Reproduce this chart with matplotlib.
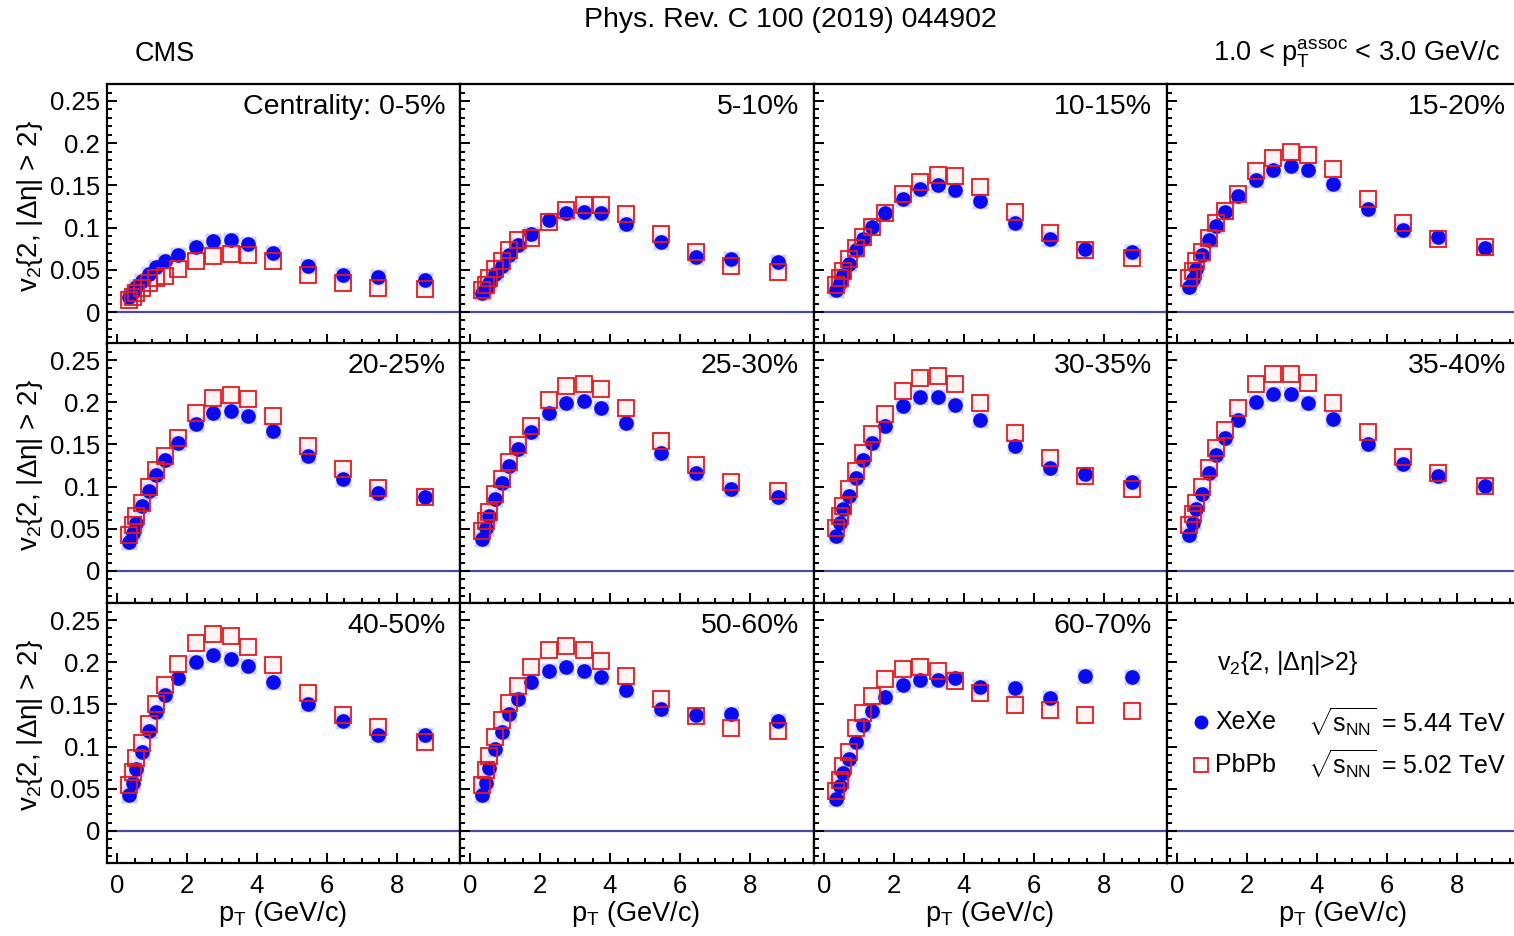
"""CMS v2{2,|deta|>2} vs pT, XeXe vs PbPb, centrality grid."""
import matplotlib.pyplot as plt
from matplotlib.ticker import MultipleLocator, FuncFormatter

plt.rcParams["font.family"] = ["Liberation Sans", "DejaVu Sans"]
plt.rcParams["mathtext.fontset"] = "custom"
plt.rcParams["mathtext.rm"] = "Liberation Sans"
plt.rcParams["mathtext.it"] = "Liberation Sans"
plt.rcParams["mathtext.bf"] = "Liberation Sans:bold"

pt = [0.35, 0.45, 0.55, 0.7, 0.9, 1.12, 1.37, 1.75, 2.25, 2.75, 3.25, 3.75, 4.45, 5.45, 6.45, 7.45, 8.8]

centralities = ["Centrality: 0-5%", "5-10%", "10-15%", "15-20%", "20-25%", "25-30%",
                "30-35%", "35-40%", "40-50%", "50-60%", "60-70%"]

# values
xexe_0_5 = [0.018, 0.024, 0.030, 0.037, 0.045, 0.053, 0.060, 0.067, 0.077, 0.084, 0.085, 0.080, 0.070, 0.055, 0.044, 0.041, 0.038]
pbpb_0_5 = [0.014, 0.018, 0.022, 0.028, 0.034, 0.040, 0.043, 0.051, 0.061, 0.066, 0.069, 0.067, 0.060, 0.044, 0.034, 0.028, 0.027]
xexe_5_10 = [0.022, 0.028, 0.034, 0.045, 0.055, 0.067, 0.079, 0.093, 0.109, 0.117, 0.119, 0.117, 0.104, 0.083, 0.065, 0.063, 0.059]
pbpb_5_10 = [0.026, 0.032, 0.040, 0.051, 0.061, 0.073, 0.085, 0.088, 0.107, 0.121, 0.127, 0.127, 0.116, 0.092, 0.071, 0.055, 0.047]
xexe_10_15 = [0.026, 0.034, 0.044, 0.057, 0.073, 0.087, 0.101, 0.117, 0.134, 0.146, 0.150, 0.144, 0.131, 0.106, 0.086, 0.075, 0.071]
pbpb_10_15 = [0.032, 0.040, 0.049, 0.063, 0.076, 0.089, 0.101, 0.117, 0.140, 0.154, 0.162, 0.161, 0.148, 0.119, 0.094, 0.073, 0.064]
xexe_15_20 = [0.030, 0.039, 0.051, 0.067, 0.085, 0.102, 0.119, 0.138, 0.156, 0.168, 0.173, 0.168, 0.152, 0.122, 0.097, 0.089, 0.076]
pbpb_15_20 = [0.040, 0.049, 0.060, 0.071, 0.088, 0.105, 0.120, 0.140, 0.167, 0.182, 0.190, 0.186, 0.170, 0.134, 0.106, 0.086, 0.077]
xexe_20_25 = [0.034, 0.045, 0.057, 0.077, 0.095, 0.114, 0.132, 0.152, 0.174, 0.187, 0.189, 0.184, 0.166, 0.136, 0.109, 0.092, 0.088]
pbpb_20_25 = [0.043, 0.055, 0.065, 0.081, 0.100, 0.120, 0.136, 0.158, 0.187, 0.205, 0.209, 0.204, 0.184, 0.148, 0.121, 0.098, 0.088]
xexe_25_30 = [0.038, 0.051, 0.065, 0.085, 0.104, 0.124, 0.144, 0.165, 0.187, 0.199, 0.201, 0.193, 0.175, 0.140, 0.116, 0.097, 0.088]
pbpb_25_30 = [0.047, 0.059, 0.070, 0.091, 0.109, 0.129, 0.149, 0.172, 0.203, 0.219, 0.222, 0.216, 0.193, 0.154, 0.126, 0.106, 0.095]
xexe_30_35 = [0.041, 0.057, 0.073, 0.089, 0.110, 0.132, 0.152, 0.172, 0.195, 0.206, 0.206, 0.197, 0.179, 0.148, 0.122, 0.115, 0.105]
pbpb_30_35 = [0.051, 0.065, 0.077, 0.097, 0.118, 0.140, 0.162, 0.186, 0.213, 0.229, 0.231, 0.222, 0.199, 0.163, 0.134, 0.113, 0.097]
xexe_35_40 = [0.043, 0.057, 0.073, 0.091, 0.116, 0.137, 0.158, 0.179, 0.200, 0.210, 0.210, 0.199, 0.180, 0.150, 0.127, 0.112, 0.101]
pbpb_35_40 = [0.054, 0.067, 0.081, 0.100, 0.122, 0.146, 0.167, 0.193, 0.221, 0.234, 0.234, 0.223, 0.199, 0.165, 0.135, 0.116, 0.101]
xexe_40_50 = [0.043, 0.057, 0.073, 0.094, 0.119, 0.141, 0.161, 0.181, 0.200, 0.209, 0.204, 0.196, 0.176, 0.151, 0.130, 0.114, 0.114]
pbpb_40_50 = [0.054, 0.070, 0.087, 0.104, 0.127, 0.151, 0.173, 0.198, 0.223, 0.233, 0.231, 0.218, 0.197, 0.164, 0.137, 0.123, 0.106]
xexe_50_60 = [0.043, 0.057, 0.075, 0.097, 0.117, 0.139, 0.156, 0.176, 0.190, 0.194, 0.190, 0.182, 0.167, 0.145, 0.137, 0.139, 0.130]
pbpb_50_60 = [0.055, 0.072, 0.089, 0.111, 0.131, 0.152, 0.172, 0.194, 0.214, 0.219, 0.214, 0.201, 0.184, 0.156, 0.136, 0.122, 0.119]
xexe_60_70 = [0.038, 0.053, 0.069, 0.085, 0.105, 0.126, 0.142, 0.159, 0.173, 0.179, 0.179, 0.181, 0.171, 0.169, 0.158, 0.184, 0.182]
pbpb_60_70 = [0.047, 0.061, 0.077, 0.094, 0.122, 0.140, 0.160, 0.180, 0.192, 0.194, 0.190, 0.178, 0.163, 0.149, 0.143, 0.137, 0.142]

xexe_all = [xexe_0_5, xexe_5_10, xexe_10_15, xexe_15_20, xexe_20_25, xexe_25_30,
            xexe_30_35, xexe_35_40, xexe_40_50, xexe_50_60, xexe_60_70]
pbpb_all = [pbpb_0_5, pbpb_5_10, pbpb_10_15, pbpb_15_20, pbpb_20_25, pbpb_25_30,
            pbpb_30_35, pbpb_35_40, pbpb_40_50, pbpb_50_60, pbpb_60_70]

BLUE = "#0a0af0"
RED = "#e8181e"
ZERO = "#4b4b9e"
FS = 18.5

W, H = 1514, 936
fig = plt.figure(figsize=(W / 100, H / 100), dpi=100)
col_left = [107, 460, 814, 1167]
col_width = [353, 354, 353, 354]
row_top = [84, 343, 603]
row_h = 260
zero_off = 228     # px from panel top to y=0
px_per_x = 35.0
px_per_y = 844.0


def style_axis(ax, row, col):
    ax.set_xlim(-10 / px_per_x, (col_width[col] - 10) / px_per_x)
    ax.set_ylim(-(row_h - zero_off) / px_per_y, zero_off / px_per_y)
    ax.xaxis.set_major_locator(MultipleLocator(2))
    ax.xaxis.set_minor_locator(MultipleLocator(0.5))
    ax.yaxis.set_major_locator(MultipleLocator(0.05))
    ax.yaxis.set_minor_locator(MultipleLocator(0.01))
    ax.tick_params(which="both", direction="in", top=False, right=False,
                   width=1.4, labelsize=FS, colors="black")
    ax.tick_params(which="major", length=7)
    ax.tick_params(which="minor", length=3.5)
    ax.tick_params(axis="y", pad=5)
    ax.tick_params(axis="x", pad=8)
    ax.yaxis.set_major_formatter(FuncFormatter(lambda v, _: f"{v:.2f}".rstrip("0").rstrip(".") if abs(v) > 1e-9 else "0"))
    for sp in ax.spines.values():
        sp.set_linewidth(1.6)
    if col != 0:
        ax.tick_params(axis="y", labelleft=False)
    if row != 2:
        ax.tick_params(axis="x", labelbottom=False)
    ax.axhline(0, color=ZERO, lw=1.6, zorder=1)


axes = []
for row in range(3):
    for col in range(4):
        left = col_left[col] / W
        bottom = 1 - (row_top[row] + row_h) / H
        ax = fig.add_axes([left, bottom, col_width[col] / W, row_h / H])
        style_axis(ax, row, col)
        axes.append(ax)

for i, label in enumerate(centralities):
    ax = axes[i]
    xe = xexe_all[i]
    pb = pbpb_all[i]
    # systematic halos
    ax.plot(pt, xe, ls="none", marker="s", ms=12, color="#8c8cff", alpha=0.4, mec="none", zorder=2)
    ax.plot(pt, pb, ls="none", marker="s", ms=11, color="#ffd6d6", alpha=0.25, mec="none", zorder=2)
    ax.plot(pt, xe, ls="none", marker="o", ms=9.5, color=BLUE, mec=BLUE, zorder=3)
    ax.plot(pt, pb, ls="none", marker="s", ms=11, mfc="none", mec=RED, mew=1.3, zorder=4)
    ax.text(0.958, 0.912, label, transform=ax.transAxes, ha="right", va="center", fontsize=20.5)

# legend panel
lax = axes[11]
LFS = 18
lax.text(0.141, 0.769, "v$_2${2, |Δη|>2}", transform=lax.transAxes, ha="left", va="center", fontsize=LFS)
lax.plot([0.096], [0.542], transform=lax.transAxes, marker="o", ms=9, color=BLUE, ls="none", clip_on=False)
lax.plot([0.096], [0.377], transform=lax.transAxes, marker="s", ms=10.5, mfc="none", mec=RED, mew=1.3, ls="none", clip_on=False)
lax.text(0.136, 0.542, "XeXe", transform=lax.transAxes, ha="left", va="center", fontsize=LFS)
lax.text(0.136, 0.377, "PbPb", transform=lax.transAxes, ha="left", va="center", fontsize=LFS)
lax.text(0.399, 0.542, r"$\sqrt{s_{\mathrm{NN}}}$ = 5.44 TeV", transform=lax.transAxes, ha="left", va="center", fontsize=LFS)
lax.text(0.399, 0.377, r"$\sqrt{s_{\mathrm{NN}}}$ = 5.02 TeV", transform=lax.transAxes, ha="left", va="center", fontsize=LFS)

# axis titles
for row in range(3):
    yc = 1 - (row_top[row] + row_h / 2 - 8) / H
    fig.text(30 / W, yc, "v$_2${2, |Δη| > 2}", rotation=90, ha="center", va="center", fontsize=20)
for col in range(4):
    xc = (col_left[col] + 176) / W
    fig.text(xc, 1 - 914 / H, r"p$_\mathrm{T}$ (GeV/c)", ha="center", va="center", fontsize=19.5)

fig.text(790 / W, 1 - 20 / H, "Phys. Rev. C 100 (2019) 044902", ha="center", va="center", fontsize=20.5)
fig.text(135 / W, 1 - 54 / H, "CMS", ha="left", va="center", fontsize=19.5)
fig.text(1500 / W, 1 - 54 / H, r"1.0 < p$_\mathrm{T}^\mathrm{assoc}$ < 3.0 GeV/c", ha="right", va="center", fontsize=19.5)

fig.savefig("out.png", dpi=100)
